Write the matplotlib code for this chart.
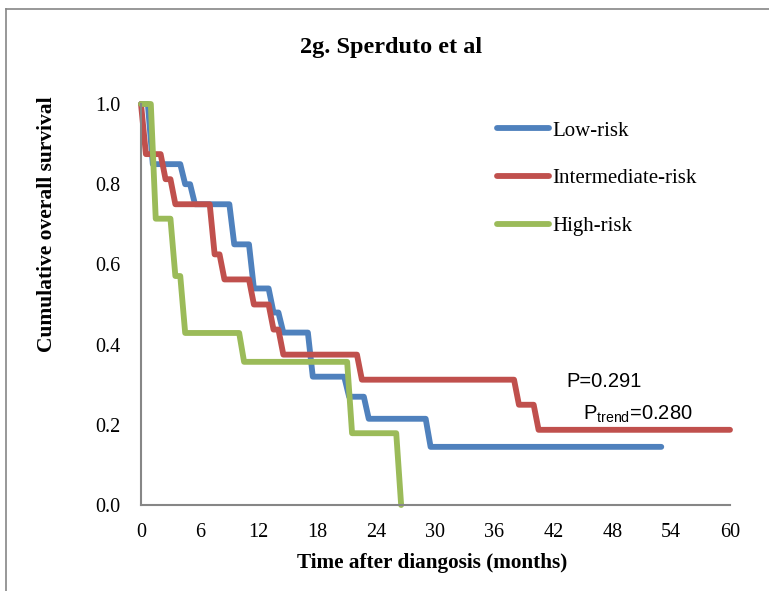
import matplotlib
matplotlib.use('Agg')
import matplotlib.pyplot as plt
from matplotlib.lines import Line2D

# Kaplan-Meier steps: time of each drop (months) and the new survival level
low_t = [0.7, 4, 5, 9, 11, 13, 14, 17, 20.7, 22.7, 29]
low_s = [0.85, 0.80, 0.75, 0.65, 0.54, 0.48, 0.43, 0.32, 0.27, 0.215, 0.145]
low_end = 53

mid_t = [0, 2, 3, 7, 8, 11, 13, 14, 22, 38, 40]
mid_s = [0.875, 0.8125, 0.75, 0.625, 0.5625, 0.5, 0.4375, 0.375, 0.3125, 0.25, 0.1875]
mid_end = 60

high_t = [1, 3, 4, 10, 21, 26]
high_s = [0.714, 0.571, 0.429, 0.357, 0.179, 0.0]
high_end = None

labels = ['Low-risk', 'Intermediate-risk', 'High-risk']
colors = ['#4F81BD', '#C0504D', '#9BBB59']
x_ticks = list(range(0, 61, 6))
y_ticks = [0.0, 0.2, 0.4, 0.6, 0.8, 1.0]

SLANT = 0.5  # the drops in the original are drawn slightly slanted


def km_path(times, surv, end):
    """turns drop times / levels into the x, y vertices of the step line"""
    xs, ys = [0.0], [1.0]
    prev = 1.0
    for t, s in zip(times, surv):
        xs += [t, t + SLANT]
        ys += [prev, s]
        prev = s
    if end is not None:
        xs.append(end)
        ys.append(prev)
    return xs, ys


plt.rcParams['font.family'] = ['Liberation Serif', 'DejaVu Serif']
plt.rcParams['mathtext.fontset'] = 'custom'
plt.rcParams['mathtext.rm'] = 'Liberation Sans'

fig = plt.figure(figsize=(7.69, 5.91), dpi=100)
ax = fig.add_axes([141 / 769, 1 - 505 / 591, 589 / 769, 401 / 591])

series = [(low_t, low_s, low_end), (mid_t, mid_s, mid_end), (high_t, high_s, high_end)]
for (t, s, end), lab, col in zip(series, labels, colors):
    xs, ys = km_path(t, s, end)
    ax.plot(xs, ys, color=col, lw=4.2, label=lab, solid_capstyle='round',
            solid_joinstyle='round', clip_on=False)

ax.set_xlim(0, 60)
ax.set_ylim(0, 1)
ax.set_xticks(x_ticks)
ax.set_yticks(y_ticks)
ax.set_yticklabels(['%.1f' % v for v in y_ticks])
ax.tick_params(length=0, labelsize=14.5)
ax.tick_params(axis='x', pad=13)
ax.tick_params(axis='y', pad=15)
for side in ['top', 'right']:
    ax.spines[side].set_visible(False)
for side in ['left', 'bottom']:
    ax.spines[side].set_color('#868686')
    ax.spines[side].set_linewidth(1.5)

fig.text(391 / 769, 1 - 53 / 591, '2g. Sperduto et al', ha='center', va='baseline',
         fontsize=17.5, fontweight='bold')
fig.text(432 / 769, 1 - 563 / 591, 'Time after diangosis (months)', ha='center', va='center',
         fontsize=15.3, fontweight='bold')
fig.text(47 / 769, 1 - 224 / 591, 'Cumulative overall survival', ha='center', va='center',
         rotation=90, fontsize=15.5, fontweight='bold')

ax.text(43.3, 0.295, 'P=0.291', family='Liberation Sans', fontsize=14.5, va='baseline')
ax.text(45.0, 0.212, r'P$_{\mathrm{trend}}$=0.280', family='Liberation Sans', fontsize=14.5,
        va='baseline')

ax.legend(loc='upper left', bbox_to_anchor=(497 / 769, 1 - 121 / 591),
          bbox_transform=fig.transFigure, frameon=False, fontsize=15,
          handlelength=2.5, handletextpad=0.15, labelspacing=1.35,
          borderpad=0, borderaxespad=0)

# chart area border (only left and top visible in the original crop)
fig.add_artist(Line2D([6 / 769, 6 / 769], [0, 1 - 9 / 591], transform=fig.transFigure,
                      color='#868686', lw=1.2))
fig.add_artist(Line2D([6 / 769, 1], [1 - 9 / 591, 1 - 9 / 591], transform=fig.transFigure,
                      color='#868686', lw=1.2))

fig.savefig('out.png', dpi=100)
